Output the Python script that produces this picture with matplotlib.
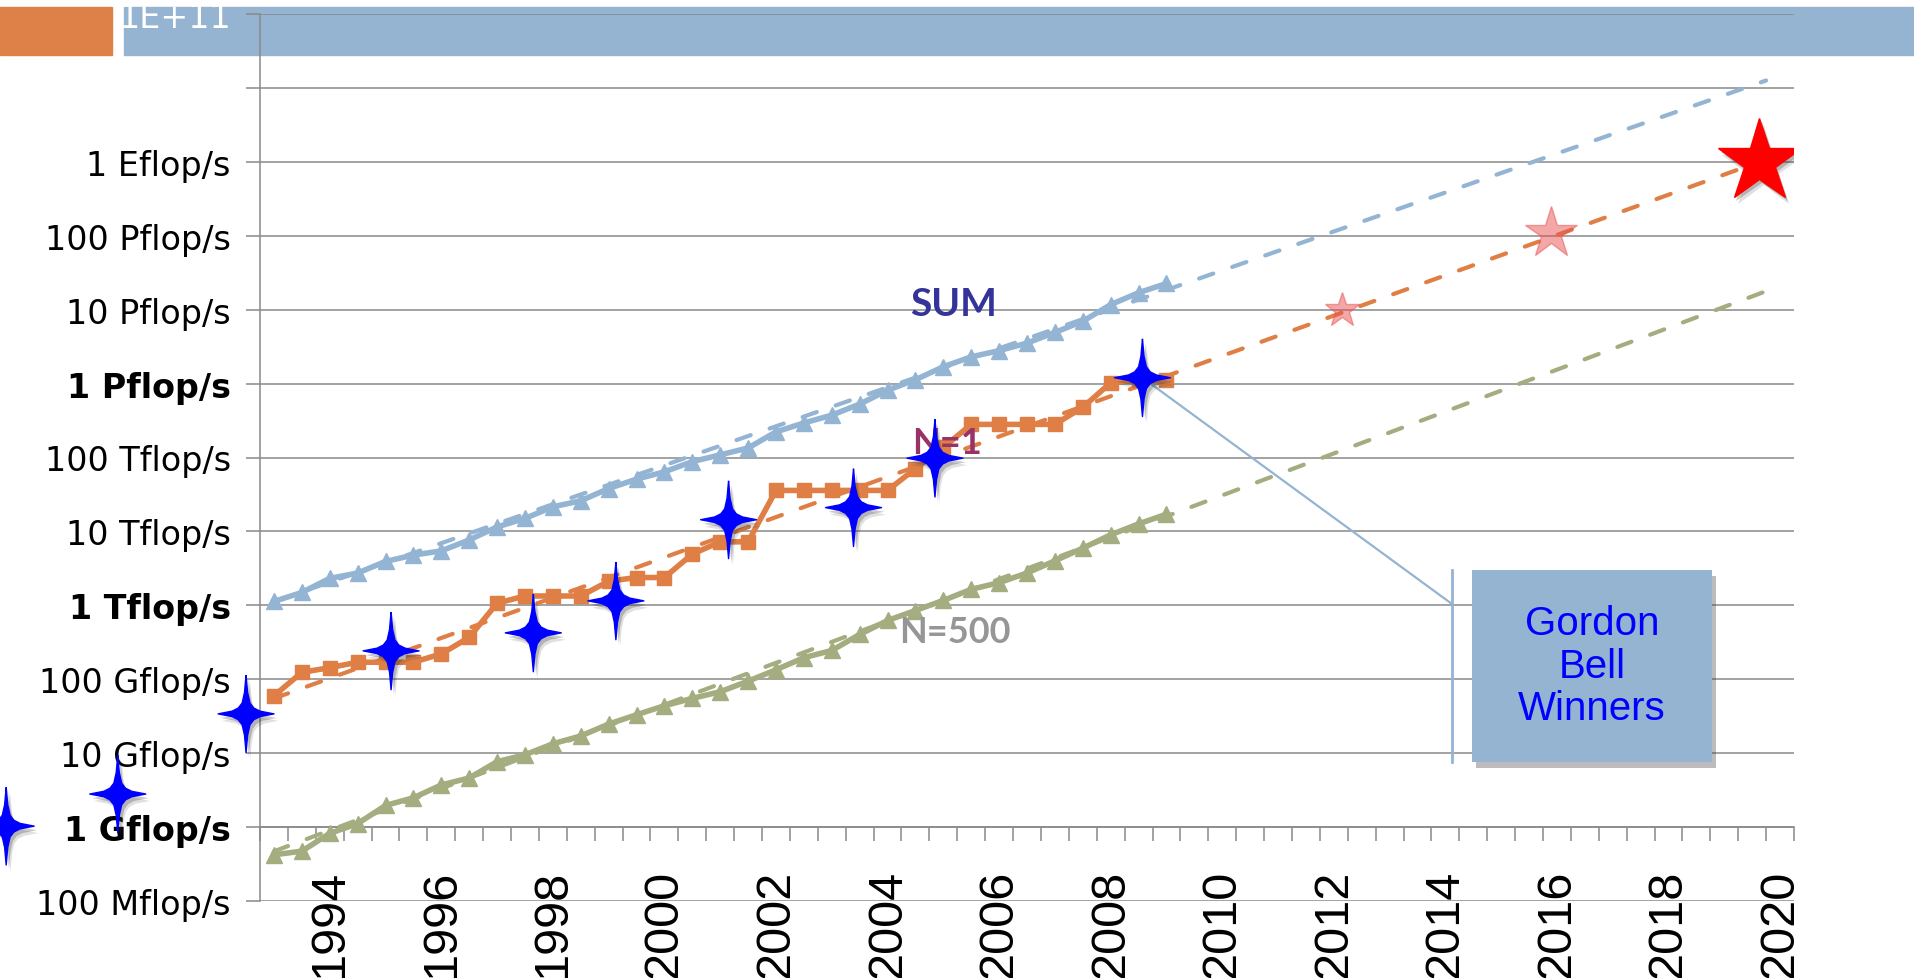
# TOP500 PERFORMANCE DEVELOPMENT WITH GORDON BELL WINNERS

import matplotlib.pyplot as plt
import matplotlib.patheffects as pe
from matplotlib.patches import Rectangle
from matplotlib.lines import Line2D
from matplotlib.ticker import NullLocator

# Top500 lists (June / November), values in Gflop/s
years = [1993.0, 1993.5, 1994.0, 1994.5, 1995.0, 1995.5, 1996.0, 1996.5,
         1997.0, 1997.5, 1998.0, 1998.5, 1999.0, 1999.5, 2000.0, 2000.5,
         2001.0, 2001.5, 2002.0, 2002.5, 2003.0, 2003.5, 2004.0, 2004.5,
         2005.0, 2005.5, 2006.0, 2006.5, 2007.0, 2007.5, 2008.0, 2008.5, 2009.0]

sum_vals = [1128, 1493, 2317, 2732, 3924, 4784, 5453, 7668,
            11500, 15000, 21500, 26000, 38000, 51000, 64000, 88000,
            108600, 134400, 222000, 293000, 374000, 528000, 813000, 1127000,
            1690000, 2300000, 2790000, 3530000, 4920000, 6970000, 11700000, 16950000, 22600000]

n1_vals = [59.7, 124, 143.4, 170, 170, 170, 220.4, 368.2,
           1068, 1338, 1338, 1338, 2121, 2379, 2379, 4938,
           7226, 7226, 35860, 35860, 35860, 35860, 35860, 70720,
           136800, 280600, 280600, 280600, 280600, 478200, 1026000, 1105000, 1105000]

n500_vals = [0.422, 0.472, 0.822, 1.114, 1.96, 2.49, 3.71, 4.62,
             7.67, 9.51, 13.39, 17.1, 24.73, 33.1, 43.82, 55.1,
             67.78, 94.3, 134.3, 195.8, 245.1, 403.4, 624, 850.6,
             1166, 1646, 2026, 2737, 4005, 5929, 9000, 12640, 17090]

# dashed trend lines (start / end)
trend_years_sum = [1993.0, 2019.75]
trend_sum = [1122, 1.26e10]
trend_years_n1 = [1993.0, 2019.6]
trend_n1 = [55, 9.8e8]
trend_years_n500 = [1993.0, 2019.75]
trend_n500 = [0.47, 1.78e7]

# Gordon Bell winners
gb_years = [1988.2, 1990.2, 1992.5, 1995.1, 1997.65, 1999.13, 2001.15, 2003.39, 2004.85, 2008.57]
gb_vals = [1.03, 2.8, 34, 242, 424, 1150, 14400, 21000, 98000, 1200000]

# projection stars
proj_years = [2012.14, 2015.89]
proj_vals = [1.0e7, 1.1e8]
proj_sizes = [26, 39]
exa_year, exa_val = 2019.63, 1.0e9

ytick_vals = [0.1, 1, 10, 1e2, 1e3, 1e4, 1e5, 1e6, 1e7, 1e8, 1e9, 1e10, 1e11]
ytick_labels = ['100 Mflop/s', '1 Gflop/s', '10 Gflop/s', '100 Gflop/s', '1 Tflop/s',
                '10 Tflop/s', '100 Tflop/s', '1 Pflop/s', '10 Pflop/s', '100 Pflop/s',
                '1 Eflop/s', '', '1E+11']
bold_labels = ['1 Gflop/s', '1 Tflop/s', '1 Pflop/s']
xtick_years = list(range(1994, 2021, 2))
category_edges = [1992.75 + 0.5 * k for k in range(56)]

c_sum = '#94B4D4'
c_n1 = '#E07F45'
c_n500 = '#A4AD80'
c_grid = '#898989'
c_band = '#94B4D2'

W, H = 1915, 979
fig = plt.figure(figsize=(W / 100, H / 100), dpi=100)
ax = fig.add_axes([260 / W, 1 - 902 / H, 1534 / W, 887 / H])
ax.set_facecolor('none')

# title band of the slide
fig.add_artist(Rectangle((0, 1 - 56 / H), 112 / W, 48 / H, transform=fig.transFigure,
                         color='#DE8149', zorder=-2))
fig.add_artist(Rectangle((124 / W, 1 - 56 / H), 1 - 124 / W, 48 / H, transform=fig.transFigure,
                         color=c_band, zorder=-2))

ax.set_yscale('log')
ax.set_ylim(0.1, 1e11)
ax.set_xlim(1992.75, 2020.25)

# solid series
ax.plot(years, sum_vals, color=c_sum, lw=4, marker='^', ms=11, zorder=3)
ax.plot(years, n1_vals, color=c_n1, lw=4, marker='s', ms=10, zorder=3)
ax.plot(years, n500_vals, color=c_n500, lw=4, marker='^', ms=11, zorder=3)

# trend lines
dash = (0, (3.6, 4.8))
ax.plot(trend_years_sum, trend_sum, color=c_sum, lw=3, ls=dash, dash_capstyle='round', zorder=4)
ax.plot(trend_years_n1, trend_n1, color=c_n1, lw=3, ls=dash, dash_capstyle='round', zorder=4)
ax.plot(trend_years_n500, trend_n500, color=c_n500, lw=3, ls=dash, dash_capstyle='round', zorder=4)

# series names
ax.text(2005.19, 1.2e7, 'SUM', color='#333399', fontsize=28, fontweight='bold',
        family='Lato', ha='center', va='center', zorder=5)
ax.text(2005.07, 1.6e5, 'N=1', color='#993366', fontsize=26, fontweight='bold',
        family='Lato', ha='center', va='center', zorder=5)
ax.text(2005.21, 436, 'N=500', color='#969696', fontsize=26, fontweight='bold',
        family='Lato', ha='center', va='center', zorder=5)

shadow = [pe.SimplePatchShadow(offset=(3, -5), shadow_rgbFace='#303030', alpha=0.15),
          pe.SimplePatchShadow(offset=(2, -3), shadow_rgbFace='#303030', alpha=0.25),
          pe.Normal()]

# callout from the latest winner to the box
ax.annotate('', xy=(gb_years[-1], gb_vals[-1]), xycoords='data',
            xytext=(1452, H - 605), textcoords='figure pixels',
            arrowprops=dict(arrowstyle='-', color=c_band, lw=1.6, shrinkA=0, shrinkB=0),
            zorder=5)
fig.add_artist(Line2D([1452 / W, 1452 / W], [1 - 763 / H, 1 - 571 / H], transform=fig.transFigure,
                      color=c_band, lw=2))

# Gordon Bell stars (four points, concave sides)
quarter = [(0, 1), (0.04, 0.55), (0.1, 0.28), (0.2, 0.15), (0.36, 0.07), (0.72, 0)]
right_half = quarter + [(x, -y) for x, y in reversed(quarter)][1:]
star4 = right_half + [(-x, -y) for x, y in right_half][1:]
ax.plot(gb_years, gb_vals, ls='none', marker=star4, ms=56, color='#0000FF',
        clip_on=False, zorder=6, path_effects=shadow)

# projected stars
for yr, val, size in zip(proj_years, proj_vals, proj_sizes):
    ax.plot([yr], [val], ls='none', marker='*', ms=size, color='#E85050', alpha=0.5, zorder=6)
ax.plot([exa_year], [exa_val], ls='none', marker='*', ms=63, color='#FF0000',
        zorder=6, path_effects=shadow)

# axes styling
for side in ['top', 'right']:
    ax.spines[side].set_visible(False)
ax.spines['left'].set_color(c_grid)
ax.spines['left'].set_linewidth(1.1)
ax.spines['bottom'].set_position(('data', 1))
ax.spines['bottom'].set_color(c_grid)
ax.spines['bottom'].set_linewidth(1.1)

ax.grid(axis='y', which='major', color=c_grid, lw=1.1)
ax.set_axisbelow(True)

ax.yaxis.set_minor_locator(NullLocator())
ax.set_yticks(ytick_vals, ytick_labels)
ax.tick_params(axis='y', which='major', length=10, width=1.1, color=c_grid,
               pad=11, labelsize=24)
for lbl in ax.get_yticklabels():
    if lbl.get_text() in bold_labels:
        lbl.set_fontweight('bold')
    if lbl.get_text() == '1E+11':
        lbl.set_color('white')

ax.set_xticks(xtick_years, [str(y) for y in xtick_years], family='Liberation Sans',
              fontsize=35, rotation=90)
ax.set_xticks(category_edges, minor=True)
ax.tick_params(axis='x', which='major', length=0, pad=30)
ax.tick_params(axis='x', which='minor', length=10, width=1.1, color=c_grid, direction='out')

# legend box for the winners
box = Rectangle((1472 / W, 1 - 763 / H), 240 / W, 192 / H, transform=fig.transFigure,
                facecolor=c_band, edgecolor='none', zorder=7,
                path_effects=[pe.SimplePatchShadow(offset=(3, -4), shadow_rgbFace='#404040', alpha=0.35),
                              pe.Normal()])
fig.add_artist(box)
fig.text(1592 / W, 1 - 667 / H, 'Gordon\nBell\nWinners', ha='center', va='center',
         color='#0000FF', fontsize=29, family='Liberation Sans', linespacing=1.15, zorder=8)

fig.savefig('out.png', dpi=100)
